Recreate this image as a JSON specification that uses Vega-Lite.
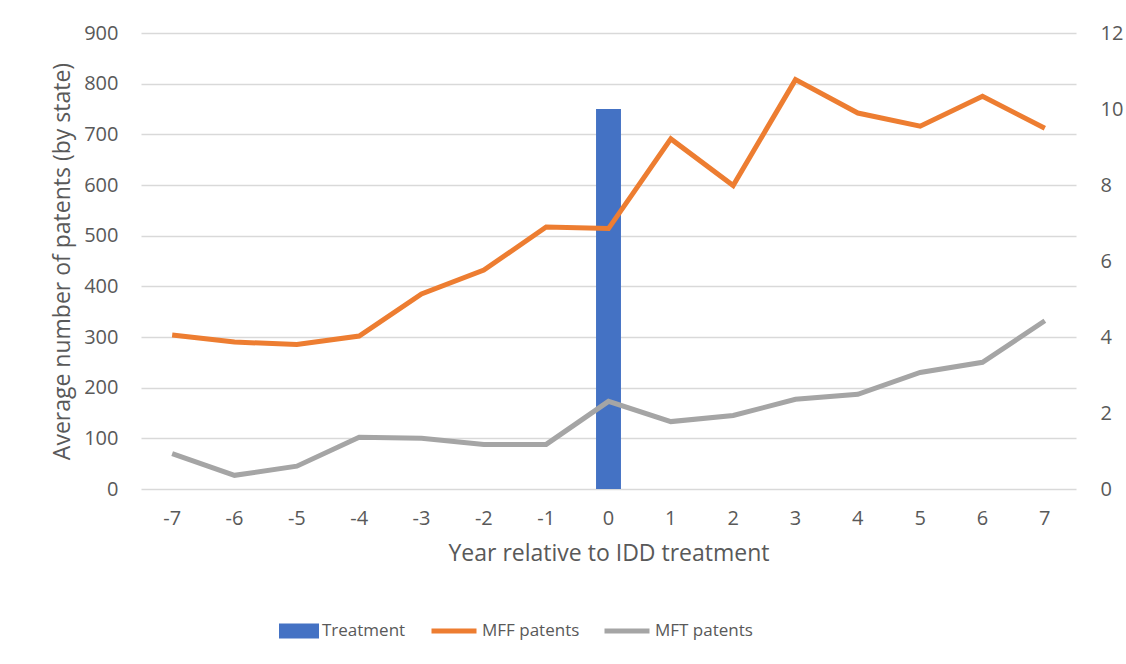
{
  "$schema": "https://vega.github.io/schema/vega-lite/v6.json",
  "width": 935,
  "height": 456,
  "autosize": {"type": "none"},
  "padding": {"left": 141, "top": 33, "right": 50, "bottom": 175},
  "config": {
    "view": {"stroke": null},
    "font": "Open Sans",
    "axis": {"labelFont": "Open Sans", "titleFont": "Open Sans", "labelColor": "#595959", "titleColor": "#595959", "labelFontSize": 20, "titleFontSize": 23, "titleFontWeight": "normal", "domain": false, "ticks": false, "gridColor": "#d9d9d9", "gridWidth": 1.5},
    "legend": {"labelFont": "Open Sans", "labelFontSize": 17, "labelColor": "#595959", "padding": 0, "labelOffset": 3}
  },
  "data": {"values": [
    {"year": -7, "series": "MFF patents", "value": 304},
    {"year": -6, "series": "MFF patents", "value": 290},
    {"year": -5, "series": "MFF patents", "value": 285},
    {"year": -4, "series": "MFF patents", "value": 302},
    {"year": -3, "series": "MFF patents", "value": 385},
    {"year": -2, "series": "MFF patents", "value": 432},
    {"year": -1, "series": "MFF patents", "value": 517},
    {"year": 0, "series": "MFF patents", "value": 514},
    {"year": 1, "series": "MFF patents", "value": 691},
    {"year": 2, "series": "MFF patents", "value": 599},
    {"year": 3, "series": "MFF patents", "value": 808},
    {"year": 4, "series": "MFF patents", "value": 742},
    {"year": 5, "series": "MFF patents", "value": 716},
    {"year": 6, "series": "MFF patents", "value": 775},
    {"year": 7, "series": "MFF patents", "value": 712},
    {"year": -7, "series": "MFT patents", "value": 70},
    {"year": -6, "series": "MFT patents", "value": 27},
    {"year": -5, "series": "MFT patents", "value": 45},
    {"year": -4, "series": "MFT patents", "value": 102},
    {"year": -3, "series": "MFT patents", "value": 100},
    {"year": -2, "series": "MFT patents", "value": 88},
    {"year": -1, "series": "MFT patents", "value": 88},
    {"year": 0, "series": "MFT patents", "value": 173},
    {"year": 1, "series": "MFT patents", "value": 133},
    {"year": 2, "series": "MFT patents", "value": 145},
    {"year": 3, "series": "MFT patents", "value": 177},
    {"year": 4, "series": "MFT patents", "value": 187},
    {"year": 5, "series": "MFT patents", "value": 230},
    {"year": 6, "series": "MFT patents", "value": 250},
    {"year": 7, "series": "MFT patents", "value": 332},
    {"year": 0, "series": "Treatment", "value": 10}
  ]},
  "encoding": {
    "x": {
      "field": "year", "type": "ordinal",
      "scale": {"paddingInner": 0.6, "paddingOuter": 0.3},
      "axis": {"labelAngle": 0, "title": "Year relative to IDD treatment", "labelPadding": 19, "titlePadding": 14, "grid": false}
    }
  },
  "layer": [
    {
      "transform": [{"filter": "datum.series === 'Treatment'"}],
      "mark": {"type": "bar"},
      "encoding": {
        "y": {"field": "value", "type": "quantitative", "scale": {"domain": [0, 12]},
          "axis": {"orient": "right", "values": [0, 2, 4, 6, 8, 10, 12], "grid": false, "title": null, "labelPadding": 24}},
        "fill": {"field": "series", "type": "nominal",
          "scale": {"domain": ["Treatment"], "range": ["#4472c4"]},
          "legend": {"title": null, "orient": "none", "legendX": 138, "legendY": 578, "symbolType": "M-1,-0.375H1V0.375H-1Z", "symbolSize": 1600, "symbolStrokeWidth": 0, "symbolOpacity": 1}}
      }
    },
    {
      "transform": [{"filter": "datum.series !== 'Treatment'"}],
      "mark": {"type": "line", "strokeWidth": 5},
      "encoding": {
        "y": {"field": "value", "type": "quantitative", "scale": {"domain": [0, 900]},
          "axis": {"orient": "left", "values": [0, 100, 200, 300, 400, 500, 600, 700, 800, 900], "grid": true, "title": "Average number of patents (by state)", "labelPadding": 23, "titlePadding": 9}},
        "stroke": {"field": "series", "type": "nominal",
          "scale": {"domain": ["MFF patents", "MFT patents"], "range": ["#ed7d31", "#a5a5a5"]},
          "legend": {"title": null, "orient": "none", "direction": "horizontal", "legendX": 288, "legendY": 573, "symbolType": "stroke", "symbolSize": 2025, "symbolStrokeWidth": 5, "columnPadding": 14}}
      }
    }
  ],
  "resolve": {"scale": {"y": "independent"}, "axis": {"y": "independent"}}
}
